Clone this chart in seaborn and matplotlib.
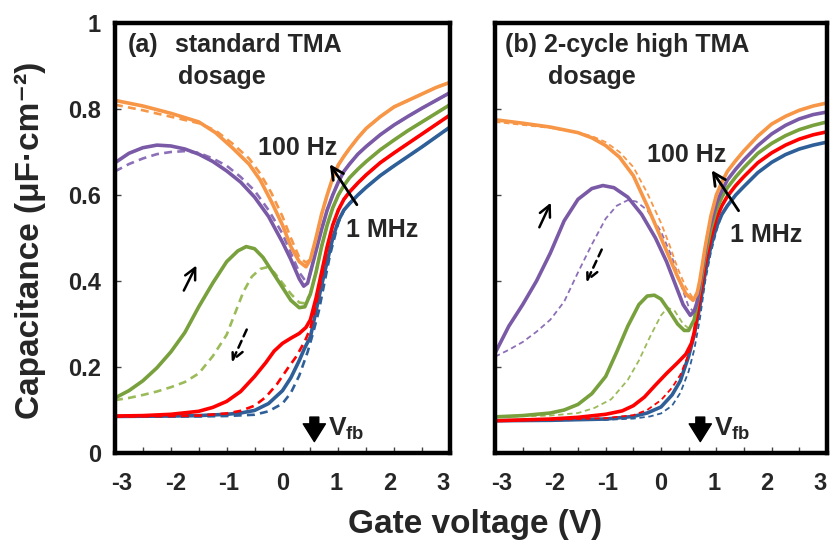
import numpy as np
import pandas as pd
import matplotlib
matplotlib.use("Agg")
import matplotlib.pyplot as plt
import matplotlib.transforms as mtransforms
import seaborn as sns

sns.set_theme(style="white")
plt.rcParams['font.family'] = ['Liberation Sans', 'DejaVu Sans']
plt.rcParams['font.weight'] = 'bold'
plt.rcParams['axes.unicode_minus'] = False
plt.rcParams['mathtext.fontset'] = 'custom'
plt.rcParams['mathtext.rm'] = 'Liberation Sans:bold'
plt.rcParams['mathtext.bf'] = 'Liberation Sans:bold'
plt.rcParams['mathtext.default'] = 'bf'

# ================= panel (a): standard TMA dosage =================
# accumulation-side rise (shared by solid / dashed sweeps)
a_orange_rise_v = [0.5, 0.6, 0.7, 0.8, 0.9, 1.0, 1.1, 1.2, 1.35, 1.5, 1.75, 2, 2.25, 2.5, 2.75, 3]
a_orange_rise_c = [0.45, 0.50, 0.555, 0.60, 0.64, 0.67, 0.69, 0.708, 0.733, 0.755, 0.782, 0.805, 0.82, 0.835, 0.85, 0.862]
a_purple_rise_v = [0.5, 0.6, 0.7, 0.8, 0.9, 1.0, 1.1, 1.2, 1.35, 1.5, 1.75, 2, 2.25, 2.5, 2.75, 3]
a_purple_rise_c = [0.42, 0.47, 0.52, 0.565, 0.60, 0.63, 0.655, 0.672, 0.695, 0.713, 0.74, 0.763, 0.783, 0.802, 0.82, 0.838]
a_green_rise_v = [0.5, 0.6, 0.7, 0.8, 0.9, 1.0, 1.1, 1.2, 1.35, 1.5, 1.75, 2, 2.25, 2.5, 2.75, 3]
a_green_rise_c = [0.37, 0.42, 0.48, 0.53, 0.57, 0.60, 0.622, 0.64, 0.66, 0.678, 0.705, 0.728, 0.75, 0.77, 0.79, 0.81]
a_red_rise_v = [1.0, 1.1, 1.2, 1.35, 1.5, 1.75, 2, 2.25, 2.5, 2.75, 3]
a_red_rise_c = [0.565, 0.59, 0.607, 0.628, 0.647, 0.675, 0.698, 0.72, 0.742, 0.764, 0.786]
a_blue_rise_v = [1.1, 1.2, 1.35, 1.5, 1.75, 2, 2.25, 2.5, 2.75, 3]
a_blue_rise_c = [0.565, 0.58, 0.60, 0.618, 0.645, 0.668, 0.69, 0.712, 0.735, 0.758]

a_orange_solid_v = [-3, -2.5, -2, -1.5, -1.2, -0.9, -0.6, -0.4, -0.2, 0, 0.15, 0.3, 0.42] + a_orange_rise_v
a_orange_solid_c = [0.82, 0.807, 0.79, 0.77, 0.745, 0.71, 0.672, 0.635, 0.585, 0.53, 0.48, 0.445, 0.433] + a_orange_rise_c
a_orange_dash_v = [-3, -2.5, -2, -1.5, -1.2, -0.9, -0.6, -0.4, -0.2, 0, 0.15, 0.3, 0.42] + a_orange_rise_v
a_orange_dash_c = [0.81, 0.797, 0.782, 0.767, 0.75, 0.72, 0.685, 0.65, 0.605, 0.55, 0.50, 0.455, 0.443] + a_orange_rise_c

a_purple_solid_v = [-3, -2.75, -2.5, -2.25, -2, -1.75, -1.5, -1.25, -1, -0.75, -0.5, -0.25, 0, 0.15, 0.3, 0.38, 0.45] + a_purple_rise_v
a_purple_solid_c = [0.675, 0.697, 0.71, 0.716, 0.714, 0.707, 0.695, 0.678, 0.656, 0.63, 0.595, 0.55, 0.49, 0.45, 0.405, 0.388, 0.395] + a_purple_rise_c
a_purple_dash_v = [-3, -2.75, -2.5, -2.25, -2, -1.75, -1.5, -1.25, -1, -0.75, -0.5, -0.25, 0, 0.15, 0.3, 0.4, 0.48] + a_purple_rise_v[1:]
a_purple_dash_c = [0.655, 0.672, 0.685, 0.695, 0.70, 0.702, 0.698, 0.685, 0.668, 0.642, 0.61, 0.565, 0.51, 0.465, 0.42, 0.402, 0.41] + a_purple_rise_c[1:]

a_green_solid_v = [-3, -2.75, -2.5, -2.25, -2, -1.75, -1.5, -1.25, -1, -0.8, -0.65, -0.5, -0.35, -0.2, 0, 0.15, 0.3, 0.4] + a_green_rise_v
a_green_solid_c = [0.128, 0.145, 0.168, 0.198, 0.235, 0.28, 0.34, 0.395, 0.445, 0.47, 0.48, 0.475, 0.455, 0.425, 0.385, 0.355, 0.338, 0.34] + a_green_rise_c
a_green_dash_v = [-3, -2.75, -2.5, -2.25, -2, -1.75, -1.5, -1.25, -1, -0.85, -0.7, -0.55, -0.4, -0.28, -0.15, 0, 0.15, 0.3, 0.4] + a_green_rise_v
a_green_dash_c = [0.123, 0.128, 0.135, 0.143, 0.153, 0.165, 0.185, 0.225, 0.275, 0.325, 0.375, 0.41, 0.428, 0.432, 0.42, 0.395, 0.37, 0.35, 0.348] + a_green_rise_c

a_red_solid_v = [-3, -2.5, -2, -1.5, -1.25, -1, -0.75, -0.5, -0.3, -0.15, 0, 0.15, 0.3, 0.42, 0.5, 0.6, 0.7, 0.8, 0.9] + a_red_rise_v
a_red_solid_c = [0.086, 0.087, 0.09, 0.097, 0.106, 0.12, 0.143, 0.178, 0.21, 0.237, 0.255, 0.267, 0.278, 0.292, 0.31, 0.36, 0.42, 0.48, 0.53] + a_red_rise_c
a_red_dash_v = [-3, -2, -1.5, -1, -0.75, -0.5, -0.3, -0.1, 0.1, 0.25, 0.4, 0.5, 0.6, 0.7, 0.8, 0.9] + a_red_rise_v
a_red_dash_c = [0.085, 0.086, 0.087, 0.092, 0.098, 0.11, 0.13, 0.16, 0.198, 0.225, 0.26, 0.29, 0.345, 0.41, 0.475, 0.53] + a_red_rise_c

a_blue_solid_v = [-3, -2, -1.5, -1, -0.75, -0.5, -0.25, 0, 0.15, 0.3, 0.4, 0.5, 0.6, 0.7, 0.8, 0.9, 1.0] + a_blue_rise_v
a_blue_solid_c = [0.085, 0.086, 0.087, 0.09, 0.093, 0.099, 0.115, 0.145, 0.175, 0.215, 0.245, 0.27, 0.33, 0.39, 0.445, 0.50, 0.54] + a_blue_rise_c
a_blue_dash_v = [-3, -1.5, -1, -0.5, -0.25, 0, 0.15, 0.3, 0.45, 0.55, 0.65, 0.75, 0.85, 0.95, 1.0] + a_blue_rise_v
a_blue_dash_c = [0.085, 0.085, 0.086, 0.089, 0.097, 0.115, 0.14, 0.18, 0.235, 0.28, 0.33, 0.395, 0.46, 0.51, 0.535] + a_blue_rise_c

# ================= panel (b): 2-cycle high TMA dosage =================
b_orange_rise_v = [0.7, 0.8, 0.9, 1.0, 1.1, 1.2, 1.35, 1.5, 1.75, 2, 2.25, 2.5, 2.75, 3]
b_orange_rise_c = [0.40, 0.48, 0.55, 0.60, 0.63, 0.655, 0.68, 0.703, 0.737, 0.765, 0.783, 0.797, 0.807, 0.814]
b_purple_rise_v = [0.75, 0.85, 1.0, 1.1, 1.2, 1.35, 1.5, 1.75, 2, 2.25, 2.5, 2.75, 3]
b_purple_rise_c = [0.43, 0.51, 0.58, 0.61, 0.635, 0.66, 0.682, 0.715, 0.742, 0.762, 0.777, 0.787, 0.793]
b_green_rise_v = [0.7, 0.8, 0.9, 1.0, 1.1, 1.2, 1.35, 1.5, 1.75, 2, 2.25, 2.5, 2.75, 3]
b_green_rise_c = [0.38, 0.46, 0.52, 0.565, 0.595, 0.617, 0.642, 0.664, 0.697, 0.72, 0.738, 0.752, 0.762, 0.77]
b_red_rise_v = [1.0, 1.1, 1.2, 1.35, 1.5, 1.75, 2, 2.25, 2.5, 2.75, 3]
b_red_rise_c = [0.545, 0.575, 0.597, 0.622, 0.643, 0.675, 0.698, 0.716, 0.73, 0.74, 0.747]
b_blue_rise_v = [1.1, 1.2, 1.35, 1.5, 1.75, 2, 2.25, 2.5, 2.75, 3]
b_blue_rise_c = [0.555, 0.575, 0.60, 0.62, 0.652, 0.676, 0.694, 0.707, 0.716, 0.723]

b_orange_solid_v = [-3, -2.5, -2, -1.5, -1.25, -1, -0.75, -0.5, -0.25, 0, 0.15, 0.3, 0.45, 0.58, 0.65] + b_orange_rise_v
b_orange_solid_c = [0.775, 0.767, 0.758, 0.745, 0.733, 0.715, 0.688, 0.645, 0.575, 0.50, 0.455, 0.41, 0.37, 0.355, 0.37] + b_orange_rise_c
b_orange_dash_v = [-3, -2.5, -2, -1.5, -1.25, -1, -0.75, -0.5, -0.25, 0, 0.15, 0.3, 0.45, 0.58, 0.65] + b_orange_rise_v
b_orange_dash_c = [0.77, 0.763, 0.756, 0.745, 0.737, 0.723, 0.70, 0.665, 0.605, 0.535, 0.485, 0.43, 0.385, 0.36, 0.375] + b_orange_rise_c

b_purple_solid_v = [-3, -2.75, -2.5, -2.25, -2, -1.75, -1.5, -1.25, -1.05, -0.85, -0.6, -0.35, -0.1, 0.1, 0.25, 0.4, 0.53, 0.6, 0.65] + b_purple_rise_v
b_purple_solid_c = [0.232, 0.295, 0.345, 0.40, 0.465, 0.54, 0.59, 0.615, 0.622, 0.617, 0.595, 0.555, 0.50, 0.445, 0.395, 0.345, 0.32, 0.33, 0.35] + b_purple_rise_c
b_purple_dash_v = [-3, -2.75, -2.5, -2.25, -2, -1.75, -1.5, -1.25, -1, -0.8, -0.6, -0.45, -0.25, 0, 0.2, 0.35, 0.5, 0.58, 0.65] + b_purple_rise_v
b_purple_dash_c = [0.224, 0.24, 0.258, 0.282, 0.31, 0.352, 0.42, 0.485, 0.545, 0.575, 0.588, 0.585, 0.565, 0.515, 0.455, 0.395, 0.34, 0.33, 0.35] + b_purple_rise_c

b_green_solid_v = [-3, -2.5, -2, -1.75, -1.5, -1.25, -1, -0.8, -0.6, -0.4, -0.25, -0.12, 0, 0.15, 0.3, 0.42, 0.5, 0.6] + b_green_rise_v
b_green_solid_c = [0.084, 0.087, 0.093, 0.10, 0.113, 0.138, 0.178, 0.235, 0.295, 0.345, 0.365, 0.367, 0.358, 0.33, 0.30, 0.285, 0.285, 0.31] + b_green_rise_c
b_green_dash_v = [-3, -2, -1.5, -1.2, -0.9, -0.6, -0.4, -0.2, 0, 0.12, 0.25, 0.4, 0.5, 0.6] + b_green_rise_v
b_green_dash_c = [0.084, 0.087, 0.093, 0.105, 0.125, 0.17, 0.215, 0.27, 0.32, 0.338, 0.33, 0.30, 0.29, 0.31] + b_green_rise_c

b_red_solid_v = [-3, -2, -1.5, -1, -0.7, -0.5, -0.3, -0.1, 0.1, 0.3, 0.45, 0.55, 0.6, 0.7, 0.8, 0.9] + b_red_rise_v
b_red_solid_c = [0.075, 0.079, 0.083, 0.09, 0.098, 0.11, 0.13, 0.158, 0.185, 0.21, 0.23, 0.255, 0.28, 0.36, 0.44, 0.50] + b_red_rise_c
b_red_dash_v = [-3, -2, -1, -0.5, -0.25, 0, 0.2, 0.35, 0.5, 0.6, 0.7, 0.8, 0.9] + b_red_rise_v
b_red_dash_c = [0.075, 0.077, 0.081, 0.088, 0.10, 0.123, 0.152, 0.182, 0.23, 0.275, 0.35, 0.435, 0.50] + b_red_rise_c

b_blue_solid_v = [-3, -2, -1, -0.5, -0.25, 0, 0.2, 0.35, 0.5, 0.6, 0.7, 0.8, 0.9, 1.0] + b_blue_rise_v
b_blue_solid_c = [0.075, 0.076, 0.079, 0.085, 0.093, 0.107, 0.135, 0.168, 0.225, 0.275, 0.34, 0.42, 0.48, 0.525] + b_blue_rise_c
b_blue_dash_v = [-3, -1, -0.5, -0.2, 0, 0.2, 0.35, 0.5, 0.6, 0.7, 0.8, 0.9, 1.0] + b_blue_rise_v
b_blue_dash_c = [0.075, 0.077, 0.08, 0.085, 0.092, 0.11, 0.14, 0.19, 0.24, 0.31, 0.40, 0.465, 0.515] + b_blue_rise_c

x_ticks = [-3, -2, -1, 0, 1, 2, 3]
x_tick_labels = ['-3', '-2', '-1', '0', '1', '2', '3']
y_ticks = [0, 0.2, 0.4, 0.6, 0.8, 1]
y_tick_labels = ['0', '0.2', '0.4', '0.6', '0.8', '1']

# ---------------- styles ----------------
solid_colors = {'orange': '#F79646', 'purple': '#7A5AA6', 'green': '#78A03C', 'red': '#FF0000', 'blue': '#2F5F98'}
dash_colors = {'orange': '#F79646', 'purple': '#8C6FB8', 'green': '#9BBB59', 'red': '#FF0000', 'blue': '#2F5F98'}

panel_a = {
    'orange': (a_orange_solid_v, a_orange_solid_c, a_orange_dash_v, a_orange_dash_c),
    'purple': (a_purple_solid_v, a_purple_solid_c, a_purple_dash_v, a_purple_dash_c),
    'green': (a_green_solid_v, a_green_solid_c, a_green_dash_v, a_green_dash_c),
    'red': (a_red_solid_v, a_red_solid_c, a_red_dash_v, a_red_dash_c),
    'blue': (a_blue_solid_v, a_blue_solid_c, a_blue_dash_v, a_blue_dash_c),
}
panel_b = {
    'orange': (b_orange_solid_v, b_orange_solid_c, b_orange_dash_v, b_orange_dash_c),
    'purple': (b_purple_solid_v, b_purple_solid_c, b_purple_dash_v, b_purple_dash_c),
    'green': (b_green_solid_v, b_green_solid_c, b_green_dash_v, b_green_dash_c),
    'red': (b_red_solid_v, b_red_solid_c, b_red_dash_v, b_red_dash_c),
    'blue': (b_blue_solid_v, b_blue_solid_c, b_blue_dash_v, b_blue_dash_c),
}

fig = plt.figure(figsize=(8.3, 5.46), dpi=100)
ax_a = fig.add_axes([115 / 830, 93 / 546, 335 / 830, 430 / 546])
ax_b = fig.add_axes([495 / 830, 93 / 546, 332 / 830, 430 / 546])


def draw_panel(ax, data, dash_lw):
    for name in ['blue', 'red', 'green', 'purple', 'orange']:
        sv, sc, dv, dc = data[name]
        sns.lineplot(x=dv, y=dc, ax=ax, color=dash_colors[name], lw=dash_lw,
                     linestyle=(0, (3, 2)), sort=False, estimator=None)
        sns.lineplot(x=sv, y=sc, ax=ax, color=solid_colors[name], lw=2.6,
                     sort=False, estimator=None)
    ax.set_xlim(-3, 3)
    ax.set_ylim(0, 1)
    ax.set_xticks(x_ticks)
    ax.set_xticklabels(x_tick_labels)
    ax.set_xticks([-2.5, -1.5, -0.5, 0.5, 1.5, 2.5], minor=True)
    ax.set_yticks(y_ticks)
    ax.tick_params(axis='both', which='both', direction='in', length=4, width=1,
                   color='#444444', labelsize=17, bottom=True, left=True,
                   top=False, right=False)
    ax.tick_params(axis='x', which='both', pad=14)
    ax.tick_params(axis='y', pad=10)
    for lab in ax.get_xticklabels() + ax.get_yticklabels():
        lab.set_fontweight('bold')
    # labels sit slightly inward at the panel edges, as in the original
    for lab, v in zip(ax.get_xticklabels(), x_ticks):
        lab.set_transform(lab.get_transform() + mtransforms.ScaledTranslation(-v * 1.6 / 72, 0, fig.dpi_scale_trans))
    for sp in ax.spines.values():
        sp.set_linewidth(3.2)
        sp.set_color('black')
    ax.set_xlabel('')
    ax.set_ylabel('')
    ax.grid(False)


draw_panel(ax_a, panel_a, 1.9)
draw_panel(ax_b, panel_b, 1.3)
ax_a.set_yticklabels(y_tick_labels)
ax_b.set_yticklabels([])

tfs = 18
# panel (a) annotations
ax_a.text(-2.77, 0.949, '(a)', fontsize=tfs, fontweight='bold', va='center', ha='left')
ax_a.text(-1.92, 0.949, 'standard TMA', fontsize=tfs, fontweight='bold', va='center', ha='left')
ax_a.text(-1.88, 0.874, 'dosage', fontsize=tfs, fontweight='bold', va='center', ha='left')
ax_a.text(-0.44, 0.709, '100 Hz', fontsize=tfs, fontweight='bold', va='center', ha='left')
ax_a.text(1.14, 0.519, '1 MHz', fontsize=tfs, fontweight='bold', va='center', ha='left')
ax_a.annotate('', xy=(0.82, 0.677), xytext=(1.36, 0.572),
              arrowprops=dict(arrowstyle='->', lw=2, color='black', mutation_scale=22))
ax_a.annotate('', xy=(-1.52, 0.442), xytext=(-1.79, 0.372),
              arrowprops=dict(arrowstyle='->', lw=1.8, color='black', mutation_scale=20))
ax_a.annotate('', xy=(-0.93, 0.205), xytext=(-0.62, 0.293),
              arrowprops=dict(arrowstyle='->', lw=1.8, color='black', linestyle=(0, (3, 2)),
                              mutation_scale=20))
ax_a.annotate('', xy=(0.57, 0.02), xytext=(0.57, 0.09),
              arrowprops=dict(arrowstyle='simple,head_width=1.0,head_length=0.8,tail_width=0.4',
                              color='black', mutation_scale=16))
ax_a.text(0.82, 0.055, r'V$_{\mathbf{fb}}$', fontsize=19, fontweight='bold', va='center', ha='left')

# panel (b) annotations
ax_b.text(-2.82, 0.949, '(b) 2-cycle high TMA', fontsize=tfs, fontweight='bold', va='center', ha='left')
ax_b.text(-2.04, 0.874, 'dosage', fontsize=tfs, fontweight='bold', va='center', ha='left')
ax_b.text(-0.25, 0.693, '100 Hz', fontsize=tfs, fontweight='bold', va='center', ha='left')
ax_b.text(1.25, 0.507, '1 MHz', fontsize=tfs, fontweight='bold', va='center', ha='left')
ax_b.annotate('', xy=(0.89, 0.663), xytext=(1.43, 0.558),
              arrowprops=dict(arrowstyle='->', lw=2, color='black', mutation_scale=22))
ax_b.annotate('', xy=(-1.97, 0.588), xytext=(-2.22, 0.519),
              arrowprops=dict(arrowstyle='->', lw=1.8, color='black', mutation_scale=20))
ax_b.annotate('', xy=(-1.37, 0.391), xytext=(-1.05, 0.479),
              arrowprops=dict(arrowstyle='->', lw=1.8, color='black', linestyle=(0, (3, 2)),
                              mutation_scale=20))
ax_b.annotate('', xy=(0.71, 0.02), xytext=(0.71, 0.09),
              arrowprops=dict(arrowstyle='simple,head_width=1.0,head_length=0.8,tail_width=0.4',
                              color='black', mutation_scale=16))
ax_b.text(0.96, 0.055, r'V$_{\mathbf{fb}}$', fontsize=19, fontweight='bold', va='center', ha='left')

fig.text(475 / 830, 1 - 525 / 546, 'Gate voltage (V)', fontsize=24, fontweight='bold',
         ha='center', va='center')
fig.text(30 / 830, 1 - 240 / 546, 'Capacitance (μF·cm⁻²)', fontsize=24, fontweight='bold',
         ha='center', va='center', rotation=90)

fig.savefig('out.png', dpi=100)
